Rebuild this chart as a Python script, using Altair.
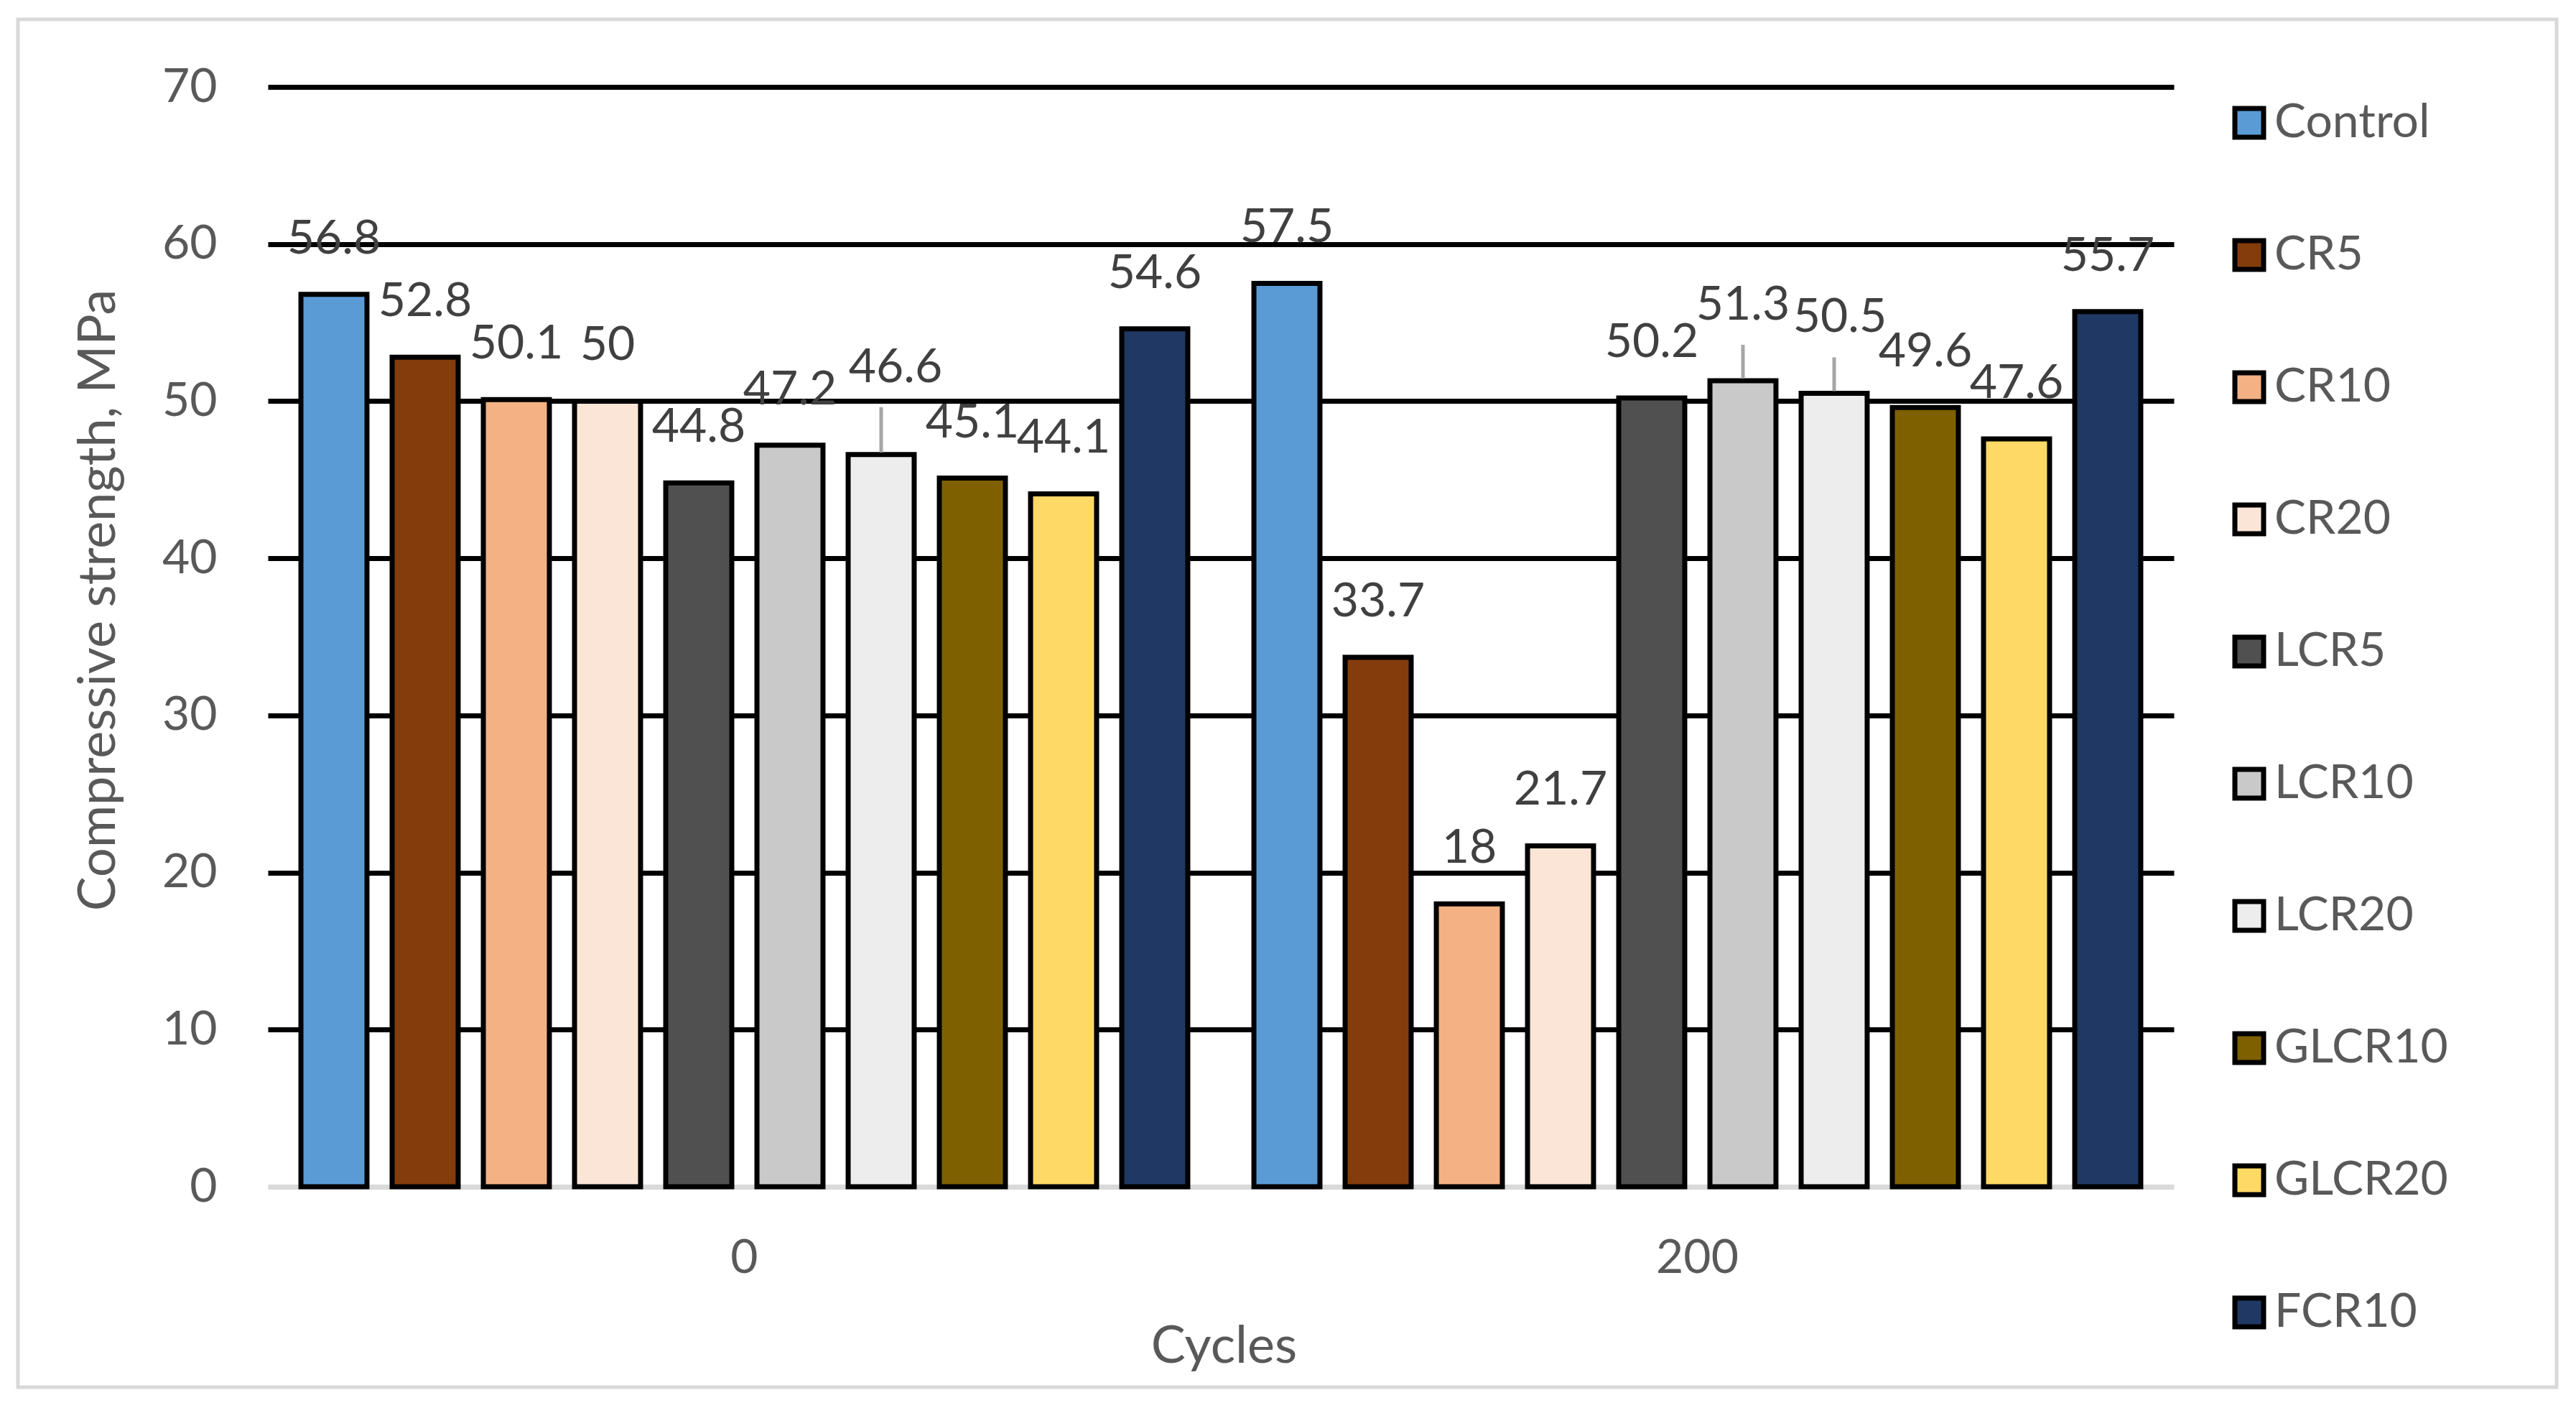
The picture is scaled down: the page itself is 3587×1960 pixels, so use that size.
import altair as alt
import pandas as pd

cycles = ["0", "200"]
mixes = ["Control", "CR5", "CR10", "CR20", "LCR5", "LCR10", "LCR20", "GLCR10", "GLCR20", "FCR10"]
strength_0 = [56.8, 52.8, 50.1, 50, 44.8, 47.2, 46.6, 45.1, 44.1, 54.6]
strength_200 = [57.5, 33.7, 18, 21.7, 50.2, 51.3, 50.5, 49.6, 47.6, 55.7]
mix_colors = ["#5B9BD5", "#843C0C", "#F4B183", "#FBE5D6", "#505050",
              "#C9C9C9", "#EDEDED", "#7F6000", "#FFD966", "#203864"]

# labels that Excel pushed up (px lift, px shift) and tied back with a leader line
moved_labels = {("0", "LCR20"): (44, 20), ("200", "LCR10"): (28, 0), ("200", "LCR20"): (28, 8)}

rows = []
for cyc, vals in zip(cycles, [strength_0, strength_200]):
    for mix, v in zip(mixes, vals):
        lift, shift = moved_labels.get((cyc, mix), (0, 0))
        rows.append({"cycle": cyc, "mix": mix, "strength": v,
                     "label": f"{v:g}", "lift": lift, "shift": shift})
df = pd.DataFrame(rows)

FONT = "Lato"
GREY = "#595959"

base = alt.Chart(df).encode(
    x=alt.X("cycle:N", sort=cycles,
            scale=alt.Scale(paddingInner=0, paddingOuter=0),
            axis=alt.Axis(title="Cycles", labelAngle=0, domain=False, ticks=False, tickSize=0,
                          labelPadding=67, labelFont=FONT, labelFontSize=66, labelColor=GREY,
                          titleFont=FONT, titleFontSize=72, titleColor=GREY,
                          titleFontWeight="normal", titleX=1331, titleY=244,
                          titleBaseline="alphabetic")),
    xOffset=alt.XOffset("mix:N", sort=mixes,
                        scale=alt.Scale(paddingInner=0.276, paddingOuter=0.3625)),
    y=alt.Y("strength:Q", scale=alt.Scale(domain=[0, 70]),
            axis=alt.Axis(values=list(range(0, 80, 10)), title="Compressive strength, MPa",
                          domain=False, ticks=False, labelPadding=71,
                          labelFont=FONT, labelFontSize=66, labelColor=GREY,
                          gridColor={"condition": {"test": "datum.value === 0", "value": "#D9D9D9"},
                                     "value": "black"},
                          gridWidth=7,
                          titleFont=FONT, titleFontSize=72, titleColor=GREY,
                          titleFontWeight="normal", titleAngle=270, titleX=-236, titleY=714,
                          titleAlign="center", titleBaseline="middle")),
)

bars = base.mark_bar(stroke="black", strokeWidth=7).encode(
    color=alt.Color("mix:N", sort=mixes,
                    scale=alt.Scale(domain=mixes, range=mix_colors),
                    legend=alt.Legend(title=None, orient="none", legendX=2726, legendY=17,
                                      symbolType="square", symbolSize=1600,
                                      symbolStrokeColor="black", symbolStrokeWidth=7,
                                      symbolOpacity=1, labelFont=FONT, labelFontSize=66,
                                      labelColor=GREY, labelLimit=0, rowPadding=116,
                                      labelOffset=2, padding=0))
)

leaders = base.transform_filter("datum.lift > 0").mark_rule(
    color="#A6A6A6", strokeWidth=5, yOffset=-3,
    y2Offset=alt.ExprRef(expr="-22 - datum.lift"),
).encode(y2=alt.Y2("strength:Q"))

labels = base.mark_text(
    font=FONT, fontSize=66, color="#404040", baseline="alphabetic",
    dy=alt.ExprRef(expr="-57 - datum.lift"), dx=alt.ExprRef(expr="datum.shift"),
).encode(text="label:N")

frame = alt.Chart(pd.DataFrame({"k": [0]})).mark_rect(
    fillOpacity=0, stroke="#D9D9D9", strokeWidth=5
).encode(x=alt.value(-348), x2=alt.value(3187), y=alt.value(-94), y2=alt.value(1810))

chart = alt.layer(frame, bars, leaders, labels).properties(
    width=2654, height=1531, autosize="none",
    padding={"left": 365, "top": 113, "right": 552, "bottom": 300},
    background="white",
).configure_view(stroke=None)

chart.save("out.html", embed_options={"renderer": "svg", "actions": False})
